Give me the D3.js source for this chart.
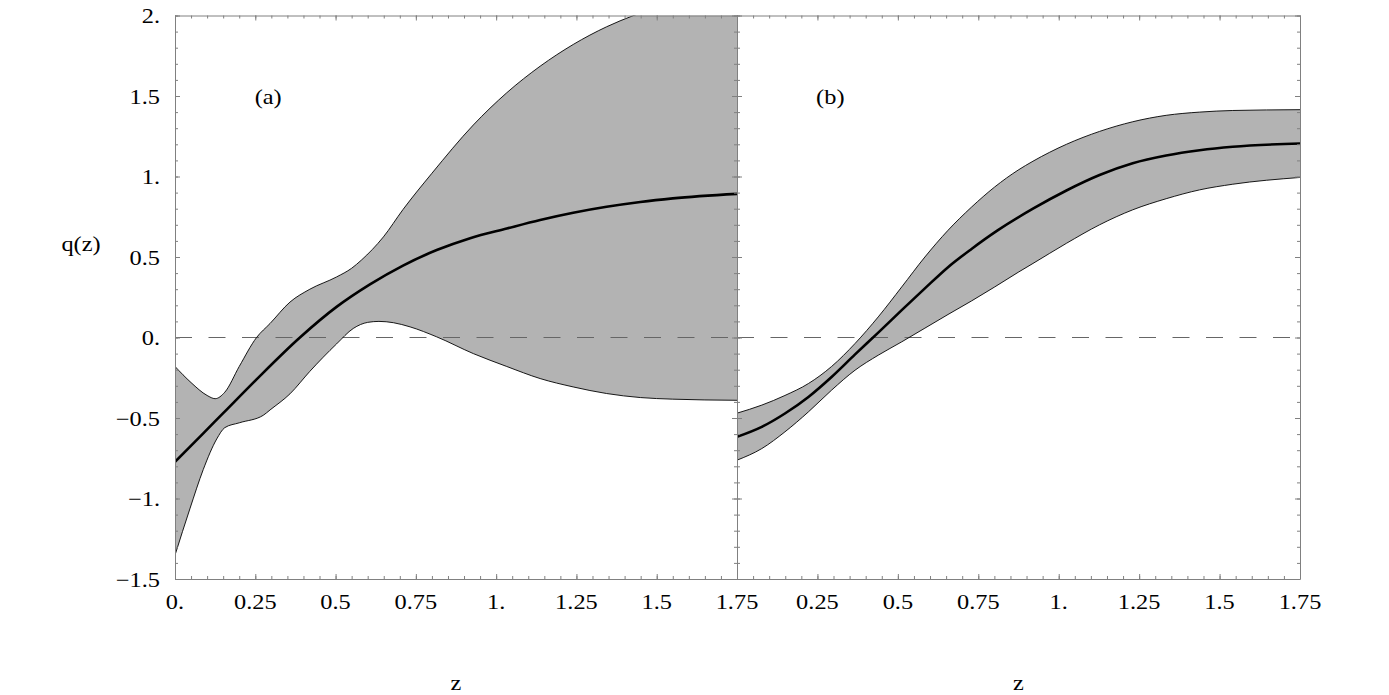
<!DOCTYPE html>
<html>
<head>
<meta charset="utf-8">
<script src="https://cdn.jsdelivr.net/npm/d3@7"></script>
<style>
  body { margin: 0; background: #fff; }
  text { font-family: "Liberation Serif", "Times New Roman", serif; font-size: 21px; fill: #000; }
</style>
</head>
<body>
<div id="chart"></div>
<script>
// panel (a)
var upperA_z = [0, 0.05, 0.1, 0.125, 0.155, 0.2, 0.254, 0.296, 0.358, 0.42, 0.503, 0.55, 0.58, 0.649, 0.71, 0.8, 0.929, 1.033, 1.137, 1.24, 1.344, 1.428, 1.5, 1.6, 1.75]
var upperA_q = [-0.18, -0.28, -0.36, -0.38, -0.34, -0.18, 0, 0.087, 0.22, 0.30, 0.376, 0.43, 0.48, 0.625, 0.795, 1.02, 1.32, 1.52, 1.685, 1.82, 1.93, 2.0, 2.05, 2.11, 2.18]
var midA_z = [0, 0.088, 0.15, 0.254, 0.389, 0.503, 0.607, 0.71, 0.815, 0.919, 1.033, 1.137, 1.24, 1.344, 1.449, 1.55, 1.75]
var midA_q = [-0.773, -0.595, -0.47, -0.26, 0, 0.19, 0.33, 0.447, 0.543, 0.617, 0.677, 0.73, 0.775, 0.812, 0.842, 0.864, 0.892]
var lowerA_z = [0, 0.047, 0.088, 0.13, 0.155, 0.2, 0.275, 0.296, 0.358, 0.42, 0.503, 0.555, 0.6, 0.635, 0.68, 0.732, 0.815, 0.929, 1.033, 1.137, 1.24, 1.344, 1.449, 1.55, 1.75]
var lowerA_q = [-1.352, -1.06, -0.82, -0.63, -0.56, -0.53, -0.483, -0.45, -0.35, -0.21, -0.04, 0.056, 0.094, 0.1, 0.092, 0.066, 0.004, -0.1, -0.18, -0.255, -0.307, -0.348, -0.373, -0.383, -0.39]

// panel (b)
var upperB_z = [0, 0.077, 0.149, 0.222, 0.294, 0.367, 0.439, 0.512, 0.584, 0.656, 0.729, 0.801, 0.874, 0.92, 1.024, 1.127, 1.23, 1.334, 1.438, 1.541, 1.75]
var upperB_q = [-0.47, -0.42, -0.36, -0.286, -0.18, -0.037, 0.128, 0.314, 0.50, 0.666, 0.81, 0.935, 1.04, 1.095, 1.2, 1.28, 1.34, 1.38, 1.40, 1.41, 1.415]
var midB_z = [0, 0.077, 0.149, 0.222, 0.294, 0.367, 0.439, 0.512, 0.584, 0.656, 0.729, 0.81, 0.92, 1.024, 1.127, 1.23, 1.334, 1.438, 1.541, 1.75]
var midB_q = [-0.617, -0.555, -0.472, -0.369, -0.245, -0.105, 0.03, 0.17, 0.305, 0.437, 0.55, 0.665, 0.8, 0.913, 1.009, 1.082, 1.13, 1.163, 1.185, 1.205]
var lowerB_z = [0, 0.077, 0.149, 0.222, 0.294, 0.367, 0.439, 0.512, 0.584, 0.656, 0.729, 0.801, 0.874, 0.92, 1.024, 1.127, 1.23, 1.334, 1.438, 1.541, 1.75]
var lowerB_q = [-0.762, -0.69, -0.586, -0.462, -0.327, -0.203, -0.11, -0.027, 0.058, 0.143, 0.227, 0.314, 0.405, 0.46, 0.585, 0.70, 0.793, 0.862, 0.917, 0.952, 0.994]

// ticks
var xMajor = [0, 0.25, 0.5, 0.75, 1, 1.25, 1.5, 1.75]
var xLabelsA = ["0.", "0.25", "0.5", "0.75", "1.", "1.25", "1.5", "1.75"]
var xLabelsB = ["", "0.25", "0.5", "0.75", "1.", "1.25", "1.5", "1.75"]
var yMajor = [-1.5, -1, -0.5, 0, 0.5, 1, 1.5, 2]
var yLabels = ["\u22121.5", "\u22121.", "\u22120.5", "0.", "0.5", "1.", "1.5", "2."]

var xMinor = d3.range(0, 36).map(function (i) { return i * 0.05 })
var yMinor = d3.range(0, 36).map(function (i) { return -1.5 + i * 0.1 })

var width = 1389, height = 695
var plotTop = 15.5, plotBottom = 579
var stretch = 1.16   // the reference text is a bit wide
var panels = [
  { id: "a", left: 175, right: 737, label: "(a)", xLabels: xLabelsA,
    upper: [upperA_z, upperA_q], mid: [midA_z, midA_q], lower: [lowerA_z, lowerA_q] },
  { id: "b", left: 737, right: 1300, label: "(b)", xLabels: xLabelsB,
    upper: [upperB_z, upperB_q], mid: [midB_z, midB_q], lower: [lowerB_z, lowerB_q] }
]

var svg = d3.select("#chart")
  .append("svg")
  .attr("width", width)
  .attr("height", height)

var y = d3.scaleLinear()
  .domain([-1.5, 2])
  .range([plotBottom, plotTop])

function pts(pair) {
  return pair[0].map(function (z, i) { return [z, pair[1][i]] })
}

function place(sel, fx, fy) {
  sel.attr("transform", function (d, i) {
    return "translate(" + fx(d, i) + "," + fy(d, i) + ") scale(" + stretch + ",1)"
  })
}

panels.forEach(function (p) {
  var x = d3.scaleLinear()
    .domain([0, 1.75])
    .range([p.left, p.right])

  var line = d3.line()
    .x(function (d) { return x(d[0]) })
    .y(function (d) { return y(d[1]) })
    .curve(d3.curveMonotoneX)

  var area = d3.area()
    .x(function (d) { return x(d[0]) })
    .y0(plotBottom + 5)
    .y1(function (d) { return y(d[1]) })
    .curve(d3.curveMonotoneX)

  svg.append("clipPath")
    .attr("id", "clip-" + p.id)
    .append("rect")
    .attr("x", p.left)
    .attr("y", plotTop)
    .attr("width", p.right - p.left)
    .attr("height", plotBottom - plotTop)

  var g = svg.append("g").attr("clip-path", "url(#clip-" + p.id + ")")

  // band: grey below upper bound, then white below lower bound
  g.append("path")
    .attr("d", area(pts(p.upper)))
    .attr("fill", "#b3b3b3")
  g.append("path")
    .attr("d", area(pts(p.lower)))
    .attr("fill", "#fff")

  // zero line
  g.append("line")
    .attr("x1", p.left)
    .attr("x2", p.right)
    .attr("y1", y(0))
    .attr("y2", y(0))
    .attr("stroke", "#666")
    .attr("stroke-width", 1)
    .style("stroke-dasharray", "17,16.5")

  g.append("path")
    .attr("d", line(pts(p.upper)))
    .attr("fill", "none")
    .attr("stroke", "#000")
    .attr("stroke-width", 0.9)
  g.append("path")
    .attr("d", line(pts(p.lower)))
    .attr("fill", "none")
    .attr("stroke", "#000")
    .attr("stroke-width", 0.9)

  g.append("path")
    .attr("d", line(pts(p.mid)))
    .attr("fill", "none")
    .attr("stroke", "#000")
    .attr("stroke-width", 2.6)

  // frame ticks, pointing inward
  var axes = [
    [d3.axisBottom(x), "translate(0," + plotBottom + ")", xMajor, xMinor],
    [d3.axisTop(x), "translate(0," + plotTop + ")", xMajor, xMinor],
    [d3.axisLeft(y), "translate(" + p.left + ",0)", yMajor, yMinor],
    [d3.axisRight(y), "translate(" + p.right + ",0)", yMajor, yMinor]
  ]
  axes.forEach(function (a) {
    var minorAx = a[0].tickValues(a[3]).tickSize(-3).tickSizeOuter(0).tickFormat("")
    var ga = svg.append("g").attr("transform", a[1]).call(minorAx)
    ga.select(".domain").attr("stroke", "#808080")
    ga.selectAll(".tick line").attr("stroke", "#808080")
    var majorAx = a[0].tickValues(a[2]).tickSize(-5).tickSizeOuter(0).tickFormat("")
    var gb = svg.append("g").attr("transform", a[1]).call(majorAx)
    gb.select(".domain").remove()
    gb.selectAll(".tick line").attr("stroke", "#808080")
  })

  // x tick labels
  svg.append("g")
    .selectAll("text")
    .data(xMajor)
    .enter()
    .append("text")
    .attr("text-anchor", "middle")
    .call(place, function (d) { return x(d) }, function () { return 609 })
    .text(function (d, i) { return p.xLabels[i] })

  svg.append("text")
    .attr("text-anchor", "middle")
    .call(place, function () { return x(0.29) }, function () { return y(1.5) + 8 })
    .text(p.label)

  svg.append("text")
    .attr("text-anchor", "middle")
    .call(place, function () { return (p.left + p.right) / 2 }, function () { return 690 })
    .text("z")
})

// y tick labels
svg.append("g")
  .selectAll("text")
  .data(yMajor)
  .enter()
  .append("text")
  .attr("text-anchor", "end")
  .call(place, function () { return 160 }, function (d) { return y(d) + 7.5 })
  .text(function (d, i) { return yLabels[i] })

svg.append("text")
  .attr("text-anchor", "middle")
  .call(place, function () { return 81 }, function () { return 251 })
  .text("q(z)")
</script>
</body>
</html>
